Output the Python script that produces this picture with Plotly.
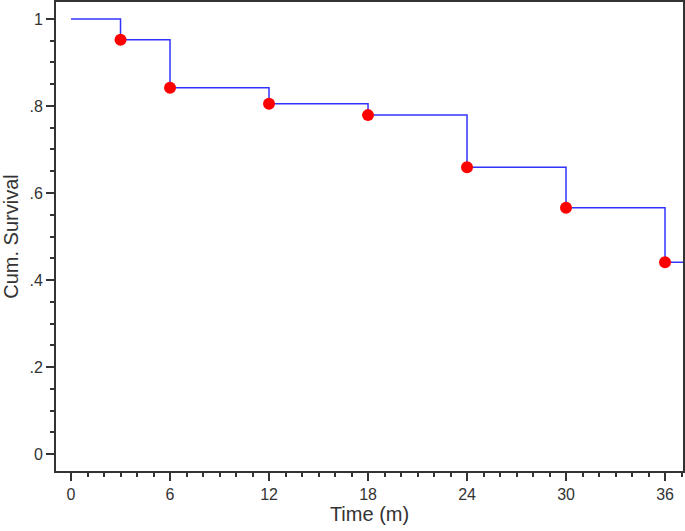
import plotly.graph_objects as go

# Kaplan-Meier step data
step_time = [0, 3, 6, 12, 18, 24, 30, 36, 38]
step_surv = [1, 0.952, 0.842, 0.805, 0.779, 0.659, 0.566, 0.441, 0.441]

event_time = [3, 6, 12, 18, 24, 30, 36]
event_surv = [0.952, 0.842, 0.805, 0.779, 0.659, 0.566, 0.441]

x_ticks = [0, 6, 12, 18, 24, 30, 36]
y_ticks = [0, 0.2, 0.4, 0.6, 0.8, 1]
y_labels = ['0', '.2', '.4', '.6', '.8', '1']

fig = go.Figure()
fig.add_trace(go.Scatter(x=step_time, y=step_surv, mode='lines', line_shape='hv',
                         line=dict(color='#3333ff', width=1.5), hoverinfo='skip'))
fig.add_trace(go.Scatter(x=event_time, y=event_surv, mode='markers',
                         marker=dict(color='#ff0000', size=12), cliponaxis=False))

axis_style = dict(showline=True, linecolor='#333333', linewidth=2, mirror=True,
                  ticks='outside', ticklen=8, tickwidth=2, tickcolor='#333333',
                  showgrid=False, zeroline=False, automargin=False,
                  tickfont=dict(family='Liberation Sans, Arial', size=16, color='#333333'))

fig.update_layout(
    width=685, height=531,
    margin=dict(l=56, r=2, t=2, b=60),
    paper_bgcolor='white', plot_bgcolor='white',
    showlegend=False,
    font=dict(family='Liberation Sans, Arial', size=17, color='#333333'),
    xaxis=dict(range=[-0.91, 37.09], tickvals=x_ticks,
               minor=dict(dtick=1, tick0=0, ticks='outside', ticklen=4, tickwidth=2, tickcolor='#333333'),
               title=dict(text='Time (m)', standoff=4), **axis_style),
    yaxis=dict(range=[-0.039, 1.039], tickvals=y_ticks, ticktext=y_labels,
               minor=dict(dtick=0.05, tick0=0, ticks='outside', ticklen=4, tickwidth=2, tickcolor='#333333'),
               title=dict(text='Cum. Survival', standoff=8), **axis_style),
)

# drop the default page margin so the figure sits at the window corner
fig.write_html("out.html", config={'displayModeBar': False},
               post_script="document.body.style.margin='0';")
